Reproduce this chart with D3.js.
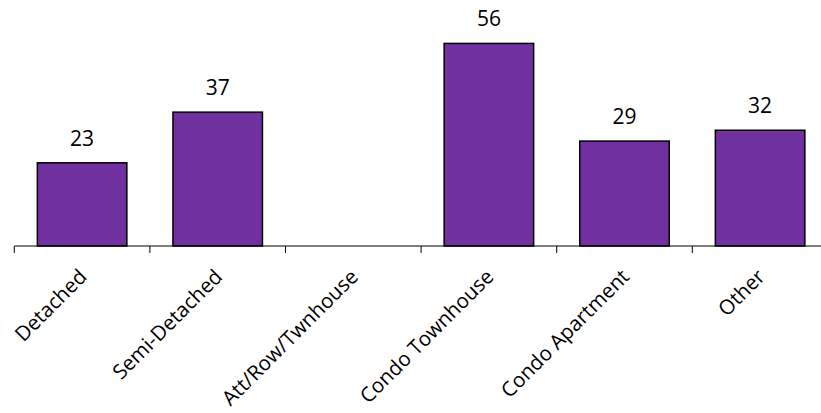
<!DOCTYPE html>
<html><head><meta charset="utf-8">
<script src="https://cdn.jsdelivr.net/npm/d3@7"></script>
<style>body{margin:0;background:#fff;overflow:hidden}</style>
</head><body>
<svg id="c" width="821" height="413"></svg>
<script>
const categories = ["Detached","Semi-Detached","Att/Row/Twnhouse","Condo Townhouse","Condo Apartment","Other"];
const values = [23, 37, null, 56, 29, 32];

const svg = d3.select("#c");
const x0 = 14.3, step = 135.6;
const x = d3.scaleBand().domain(categories).range([x0, x0 + step*categories.length]).paddingInner(0.34).paddingOuter(0.17);
const y = d3.scaleLinear().domain([0, 68]).range([246, 0]);
const font = "'Open Sans', 'Noto Sans', sans-serif";

const data = categories.map((c,i)=>({c, v: values[i]})).filter(d=>d.v!=null);

svg.selectAll("rect.bar").data(data).join("rect")
  .attr("x", d=>x(d.c)).attr("width", x.bandwidth())
  .attr("y", d=>y(d.v)).attr("height", d=>y(0)-y(d.v))
  .attr("fill", "#7030A0").attr("stroke", "#000").attr("stroke-width", 1.5);

svg.selectAll("text.val").data(data).join("text")
  .attr("x", d=>x(d.c)+x.bandwidth()/2).attr("y", d=>y(d.v)-17)
  .attr("text-anchor","middle").attr("font-family", font).attr("font-size", 21).attr("fill","#000")
  .text(d=>d.v);

const ax = svg.append("g").attr("transform","translate(0,246)");
ax.append("line").attr("x1", x0).attr("x2", x0+step*categories.length).attr("stroke","#000").attr("stroke-width",1);
const edges = d3.range(categories.length+1).map(i=>x0+i*step);
ax.selectAll("line.t").data(edges).join("line").attr("class","t")
  .attr("x1",d=>d).attr("x2",d=>d).attr("y1",0).attr("y2",7).attr("stroke","#000").attr("stroke-width",1);

ax.selectAll("text.lab").data(categories).join("text")
  .attr("transform", d=>`translate(${x(d)+x.bandwidth()/2+6},${32}) rotate(-45)`)
  .attr("text-anchor","end").attr("font-family", font).attr("font-size", 20.5).attr("fill","#000")
  .text(d=>d);
</script>
</body></html>
